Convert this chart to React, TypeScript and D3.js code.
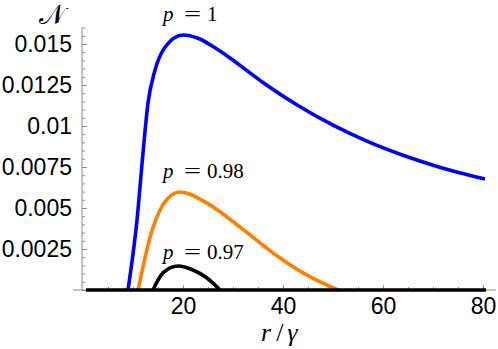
import * as d3 from 'd3';
import { useEffect, useRef } from 'react';

// r/gamma positions and N values
const rRange = [0.6, 80.6];

const blueR = [9, 10.8, 12, 13, 14.4, 16.4, 20, 23, 26, 29.4, 33, 36, 43, 50, 57, 64, 71, 80.4];
const blueN = [0, 0.00427, 0.00835, 0.0114, 0.0134, 0.0148, 0.01555, 0.01535, 0.01485, 0.01415, 0.01333, 0.01265, 0.01125, 0.01005, 0.00905, 0.00822, 0.00752, 0.00677];

const orangeR = [11, 12, 13.4, 15.4, 17, 19.4, 24.8, 31.4, 38, 44.8, 51];
const orangeN = [0, 0.0014, 0.0032, 0.00488, 0.0056, 0.00598, 0.0053, 0.00384, 0.00226, 0.00091, 0];

const blackR = [14, 16, 19, 22, 24.8, 27.4];
const blackN = [0, 0.00104, 0.00146, 0.00122, 0.00073, 0];

const yMajor = [0, 0.0025, 0.005, 0.0075, 0.01, 0.0125, 0.015];
const xMajor = [20, 40, 60, 80];

const seriesLabels = ['1', '0.98', '0.97'];
const labelAnchorR = [16, 16, 16];
const labelAnchorN = [0.0164, 0.0068, 0.0019];

const width = 498;
const height = 349;
const axisGray = '#8c8c8c';

const App = () => {
  const svgRef = useRef<SVGSVGElement | null>(null);

  useEffect(() => {
    if (!svgRef.current) return;
    const svg = d3.select(svgRef.current);
    svg.selectAll('*').remove();

    const x = d3.scaleLinear().domain([0, 80]).range([83, 483]);
    const y = d3.scaleLinear().domain([0, 0.015]).range([290, 44]);

    // axes lines
    svg
      .append('line')
      .attr('x1', x(-2))
      .attr('x2', x(82.6))
      .attr('y1', y(0))
      .attr('y2', y(0))
      .attr('stroke', axisGray)
      .attr('stroke-width', 1);
    svg
      .append('line')
      .attr('x1', x(-0.2))
      .attr('x2', x(-0.2))
      .attr('y1', y(0))
      .attr('y2', y(0.016))
      .attr('stroke', axisGray)
      .attr('stroke-width', 1);

    const styleAxis = (group) => {
      group.select('.domain').remove();
      group.selectAll('line').attr('stroke', axisGray);
      group
        .selectAll('text')
        .attr('fill', '#000')
        .style('font-family', '"Liberation Sans", Arial, sans-serif')
        .style('font-size', '23px');
    };

    const yMinor = d3.range(0, 0.0161, 0.0005).filter((v) => !yMajor.some((m) => Math.abs(m - v) < 1e-9));
    const xMinor = d3.range(5, 81, 5).filter((v) => !xMajor.includes(v));

    svg
      .append('g')
      .attr('transform', `translate(${x(-0.2)},0)`)
      .call(d3.axisLeft(y).tickValues(yMinor).tickSize(-3).tickFormat(() => ''))
      .call(styleAxis);

    svg
      .append('g')
      .attr('transform', `translate(${x(-0.2)},0)`)
      .call(
        d3
          .axisLeft(y)
          .tickValues(yMajor)
          .tickSize(-5)
          .tickPadding(10)
          .tickFormat((v) => (+v === 0 ? '' : String(+(+v).toFixed(4))))
      )
      .call(styleAxis);

    svg
      .append('g')
      .attr('transform', `translate(0,${y(0)})`)
      .call(d3.axisBottom(x).tickValues(xMinor).tickSize(-3).tickFormat(() => ''))
      .call(styleAxis);

    svg
      .append('g')
      .attr('transform', `translate(0,${y(0)})`)
      .call(d3.axisBottom(x).tickValues(xMajor).tickSize(-5).tickPadding(8).tickFormat(d3.format('d')))
      .call(styleAxis);

    const line = d3
      .line<[number, number]>()
      .x((d) => x(d[0]))
      .y((d) => y(d[1]))
      .curve(d3.curveMonotoneX);

    const drawCurve = (rs, ns, color) => {
      svg
        .append('path')
        .datum(rs.map((r, i) => [r, ns[i]]))
        .attr('fill', 'none')
        .attr('stroke', color)
        .attr('stroke-width', 3.6)
        .attr('stroke-linejoin', 'round')
        .attr('d', line);
    };

    drawCurve(blueR, blueN, '#0000ff');
    drawCurve(orangeR, orangeN, '#ff8000');

    // zero part of p = 0.97 spans the whole range
    svg
      .append('line')
      .attr('x1', x(rRange[0]))
      .attr('x2', x(rRange[1]))
      .attr('y1', y(0))
      .attr('y2', y(0))
      .attr('stroke', '#000')
      .attr('stroke-width', 3.6);
    drawCurve(blackR, blackN, '#000');

    // series labels
    const serif = '"Liberation Serif", "Times New Roman", serif';
    seriesLabels.forEach((label, i) => {
      const lx = x(labelAnchorR[i]);
      const ly = y(labelAnchorN[i]);
      const t = svg
        .append('text')
        .attr('x', lx)
        .attr('y', ly)
        .style('font-family', serif)
        .style('font-size', '21px')
        .attr('fill', '#000');
      t.append('tspan').style('font-style', 'italic').text('p');
      t.append('tspan').attr('x', lx + 21).attr('textLength', 17).attr('lengthAdjust', 'spacingAndGlyphs').text('=');
      t.append('tspan').attr('x', lx + 44).text(label);
    });

    // axis titles
    svg
      .append('text')
      .attr('x', 39)
      .attr('y', 24)
      .style('font-family', '"DejaVu Serif", serif')
      .style('font-size', '27px')
      .text('𝒩');

    const xt = svg
      .append('text')
      .attr('x', 261)
      .attr('y', 341)
      .style('font-family', serif)
      .style('font-size', '26px')
      .style('font-style', 'italic');
    xt.append('tspan').text('r');
    xt.append('tspan').attr('dx', 5).style('font-style', 'normal').text('/');
    xt.append('tspan').attr('dx', 4).text('γ');
  }, []);

  return (
    <svg
      ref={svgRef}
      width={width}
      height={height}
      style={{ position: 'absolute', left: 0, top: 0, background: '#fff' }}
    />
  );
};

export default App;
